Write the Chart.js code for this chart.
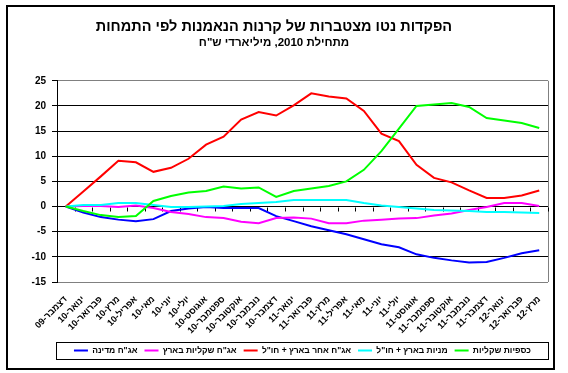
<!DOCTYPE html>
<html><head><meta charset="utf-8">
<script src="https://cdn.jsdelivr.net/npm/chart.js@4"></script>
<style>html,body{margin:0;padding:0;background:#fff}canvas{display:block}</style>
</head><body>
<canvas id="c" width="568" height="373"></canvas>
<script>
const categories = ['דצמבר-09','ינואר-10','פברואר-10','מרץ-10','אפריל-10','מאי-10','יוני-10','יולי-10','אוגוסט-10','ספטמבר-10','אוקטובר-10','נובמבר-10','דצמבר-10','ינואר-11','פברואר-11','מרץ-11','אפריל-11','מאי-11','יוני-11','יולי-11','אוגוסט-11','ספטמבר-11','אוקטובר-11','נובמבר-11','דצמבר-11','ינואר-12','פברואר-12','מרץ-12'];

const govBonds      = [0,-1.2,-2.1,-2.6,-2.9,-2.5,-0.9,-0.4,-0.1,-0.3,-0.3,-0.3,-1.9,-2.9,-3.9,-4.7,-5.5,-6.5,-7.5,-8.1,-9.5,-10.2,-10.7,-11.1,-11.0,-10.2,-9.3,-8.7];
const shekelBonds   = [0,0.1,0.1,-0.1,0.2,-0.3,-1.1,-1.5,-2.1,-2.3,-3.0,-3.3,-2.3,-2.2,-2.4,-3.3,-3.3,-2.8,-2.6,-2.4,-2.3,-1.8,-1.4,-0.7,-0.1,0.7,0.7,0.1];
const otherBonds    = [0,3.0,6.0,9.1,8.8,6.9,7.7,9.5,12.3,13.9,17.3,18.8,18.1,20.1,22.5,21.9,21.5,19.0,14.5,13.0,8.3,5.7,4.8,3.2,1.7,1.7,2.2,3.2];
const equities      = [0,0.3,0.3,0.7,0.7,0.3,-0.1,-0.1,0,0.1,0.5,0.7,0.9,1.3,1.3,1.3,1.3,0.7,0.2,-0.1,-0.4,-0.7,-0.8,-0.9,-1.1,-1.1,-1.2,-1.3];
const moneyMarket   = [0,-0.9,-1.7,-2.1,-1.9,1.1,2.1,2.8,3.1,4.0,3.6,3.8,1.9,3.1,3.6,4.1,5.0,7.3,11.0,15.5,20.0,20.3,20.6,19.8,17.6,17.1,16.6,15.6];

const seriesNames  = ['אג"ח מדינה','אג"ח שקליות בארץ','אג"ח אחר בארץ + חו"ל','מניות בארץ + חו"ל','כספיות שקליות'];
const seriesColors = ['#0000FF','#FF00FF','#FF0000','#00FFFF','#00FF00'];
const yMin = -15, yMax = 25, yStep = 5;

const titleText = 'הפקדות נטו מצטברות של קרנות הנאמנות לפי התמחות';
const subtitleText = 'מתחילת 2010, מיליארדי ש"ח';

const FONT = "'Liberation Sans', Arial, sans-serif";
const seriesData = [govBonds, shekelBonds, otherBonds, equities, moneyMarket];

const decor = {
  id: 'decor',
  beforeDraw(chart) {
    const ctx = chart.ctx;
    ctx.save(); ctx.fillStyle = '#fff'; ctx.fillRect(0, 0, chart.width, chart.height); ctx.restore();
  },
  beforeDatasetsDraw(chart) {
    const {ctx, chartArea: a, scales: {x, y}} = chart;
    ctx.save();
    ctx.strokeStyle = '#808080'; ctx.lineWidth = 1;
    ctx.beginPath();
    const rx = Math.round(a.right) + 0.5;
    ctx.moveTo(rx, a.top); ctx.lineTo(rx, a.bottom);
    ctx.stroke();
    const y0 = Math.round(y.getPixelForValue(0)) + 0.5;
    const half = (x.getPixelForValue(1) - x.getPixelForValue(0)) / 2;
    ctx.strokeStyle = '#000';
    ctx.beginPath();
    for (let i = 0; i <= categories.length; i++) {
      const px = Math.round(x.getPixelForValue(i) - half) + 0.5;
      ctx.moveTo(px, y0); ctx.lineTo(px, y0 + 4);
    }
    ctx.stroke();
    ctx.restore();
  },
  afterDraw(chart) {
    const {ctx, chartArea: a} = chart;
    ctx.save();
    ctx.strokeStyle = '#000';
    const hb = chart.legend.legendHitBoxes;
    if (hb && hb.length) {
      const cy = hb[0].top + hb[0].height / 2;
      ctx.lineWidth = 1;
      ctx.strokeRect(Math.round(a.left) - 0.5, Math.round(cy - 8) - 0.5, Math.round(a.right - a.left) + 1, 17);
    }
    ctx.lineWidth = 2;
    ctx.strokeRect(7, 6, chart.width - 21, chart.height - 10);
    ctx.restore();
  }
};

new Chart(document.getElementById('c'), {
  type: 'line',
  data: {
    labels: categories,
    datasets: seriesData.map((d, i) => ({
      label: seriesNames[i],
      data: d,
      borderColor: seriesColors[i],
      backgroundColor: seriesColors[i],
      borderWidth: 2,
      pointRadius: 0,
      pointHoverRadius: 0,
      tension: 0,
      fill: false,
      order: seriesData.length - i
    }))
  },
  options: {
    responsive: false,
    animation: false,
    devicePixelRatio: 1,
    layout: { padding: { left: 0, right: 20, top: 0, bottom: 8.25 } },
    plugins: {
      tooltip: { enabled: false },
      title: { display: true, text: titleText, color: '#000', font: { family: FONT, size: 14.5, weight: 'bold' }, padding: { top: 18, bottom: 1 } },
      subtitle: { display: true, text: subtitleText, color: '#000', font: { family: FONT, size: 11.5, weight: 'bold' }, padding: { top: 0, bottom: 30.6 } },
      legend: {
        position: 'bottom', fullSize: false, align: 'center',
        labels: {
          usePointStyle: true, pointStyle: 'line', pointStyleWidth: 14,
          padding: 7, color: '#000',
          font: { family: FONT, size: 8.5, weight: 'bold' },
          sort: (a, b) => a.datasetIndex - b.datasetIndex
        }
      }
    },
    scales: {
      x: {
        offset: true,
        grid: { display: false },
        border: { display: false },
        ticks: { autoSkip: false, maxRotation: 45, minRotation: 45, color: '#000', padding: 4,
                 font: { family: FONT, size: 9, weight: 'bold' } },
        afterFit(s) { s.height = 57.25; }
      },
      y: {
        min: yMin, max: yMax,
        ticks: { stepSize: yStep, color: '#000', padding: 6, font: { family: FONT, size: 10, weight: 'bold' } },
        grid: {
          color: (c) => (c.tick && (c.tick.value === yMax || c.tick.value === yMin)) ? '#808080' : '#000',
          tickColor: '#000', tickLength: 5, lineWidth: 1
        },
        border: { display: true, color: '#000', width: 1 },
        afterFit(s) { s.width = 57; }
      }
    }
  },
  plugins: [decor]
});
</script>
</body></html>
